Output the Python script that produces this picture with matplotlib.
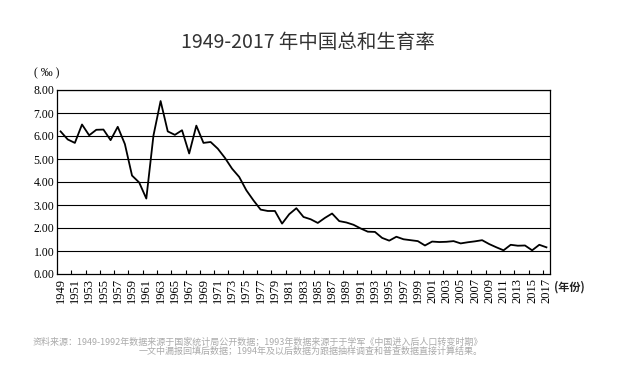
import numpy as np
import matplotlib
matplotlib.use('Agg')
import matplotlib.pyplot as plt

# Total fertility rate, China, 1949-2017
years = list(range(1949, 2018))
tfr = [6.20, 5.85, 5.70, 6.50, 6.03, 6.27, 6.28, 5.82, 6.40, 5.65,
       4.28, 3.98, 3.28, 6.02, 7.52, 6.20, 6.05, 6.25, 5.24, 6.45,
       5.70, 5.74, 5.45, 5.05, 4.58, 4.22, 3.64, 3.20, 2.80, 2.74,
       2.74, 2.19, 2.60, 2.86, 2.48, 2.38, 2.22, 2.44, 2.63, 2.30,
       2.24, 2.14, 1.98, 1.84, 1.83, 1.57, 1.45, 1.62, 1.51, 1.47,
       1.43, 1.24, 1.41, 1.39, 1.40, 1.43, 1.33, 1.38, 1.42, 1.47,
       1.30, 1.16, 1.03, 1.27, 1.23, 1.24, 1.03, 1.27, 1.16]

label_years = list(range(1949, 2018, 2))
y_ticks = list(range(0, 9))

TITLE = '1949-2017 年中国总和生育率'
NOTE_1 = '资料来源：1949-1992年数据来源于国家统计局公开数据；1993年数据来源于于学军《中国进入后人口转变时期》'
NOTE_2 = '一文中漏报回填后数据；1994年及以后数据为跟据抽样调查和普查数据直接计算结果。'

CJK = ['Noto Sans CJK SC', 'DejaVu Sans']
SERIF = ['Liberation Serif', 'DejaVu Serif']

fig = plt.figure(figsize=(6.2, 3.68), dpi=100)
ax = fig.add_axes([57 / 620, 1 - 274 / 368, 493 / 620, 184 / 368])

ax.plot(years, tfr, color='black', linewidth=1.3, zorder=3)

# horizontal grid lines
for v in y_ticks[1:]:
    ax.axhline(v, color='black', linewidth=0.8, zorder=1)

ax.set_xlim(1948.5, 2017.5)
ax.set_ylim(0, 8)
ax.set_yticks(y_ticks)
ax.set_yticklabels([f'{v:.2f}' for v in y_ticks], fontfamily=SERIF, fontsize=8.5)
ax.set_xticks(label_years)
ax.set_xticklabels([str(y) for y in label_years], rotation=90,
                   fontfamily=SERIF, fontsize=9)
ax.set_xticks(np.arange(1950.5, 2017, 2), minor=True)
ax.tick_params(axis='y', length=0, pad=2)
ax.tick_params(axis='x', which='major', length=0, pad=3)
ax.tick_params(axis='x', which='minor', direction='in', length=3, width=0.8)
for s in ax.spines.values():
    s.set_linewidth(0.9)
    s.set_color('black')

fig.text(0.496, 1 - 42 / 368, TITLE, ha='center', va='center',
         fontsize=14, color='#333333', family=CJK)
fig.text(47 / 620, 1 - 73 / 368, '( ‰ )', ha='center', va='center',
         fontsize=8.5, family=SERIF)
fig.text(554 / 620, 1 - 287 / 368, '(年份)', ha='left', va='center',
         fontsize=8, family=CJK, fontweight='bold', color='#222222')
fig.text(483 / 620, 1 - 342 / 368, NOTE_1, ha='right', va='center',
         fontsize=6.5, color='#aaaaaa', family=CJK)
fig.text(483 / 620, 1 - 351 / 368, NOTE_2, ha='right', va='center',
         fontsize=6.5, color='#aaaaaa', family=CJK)

fig.savefig('out.png', dpi=100)
plt.close(fig)
